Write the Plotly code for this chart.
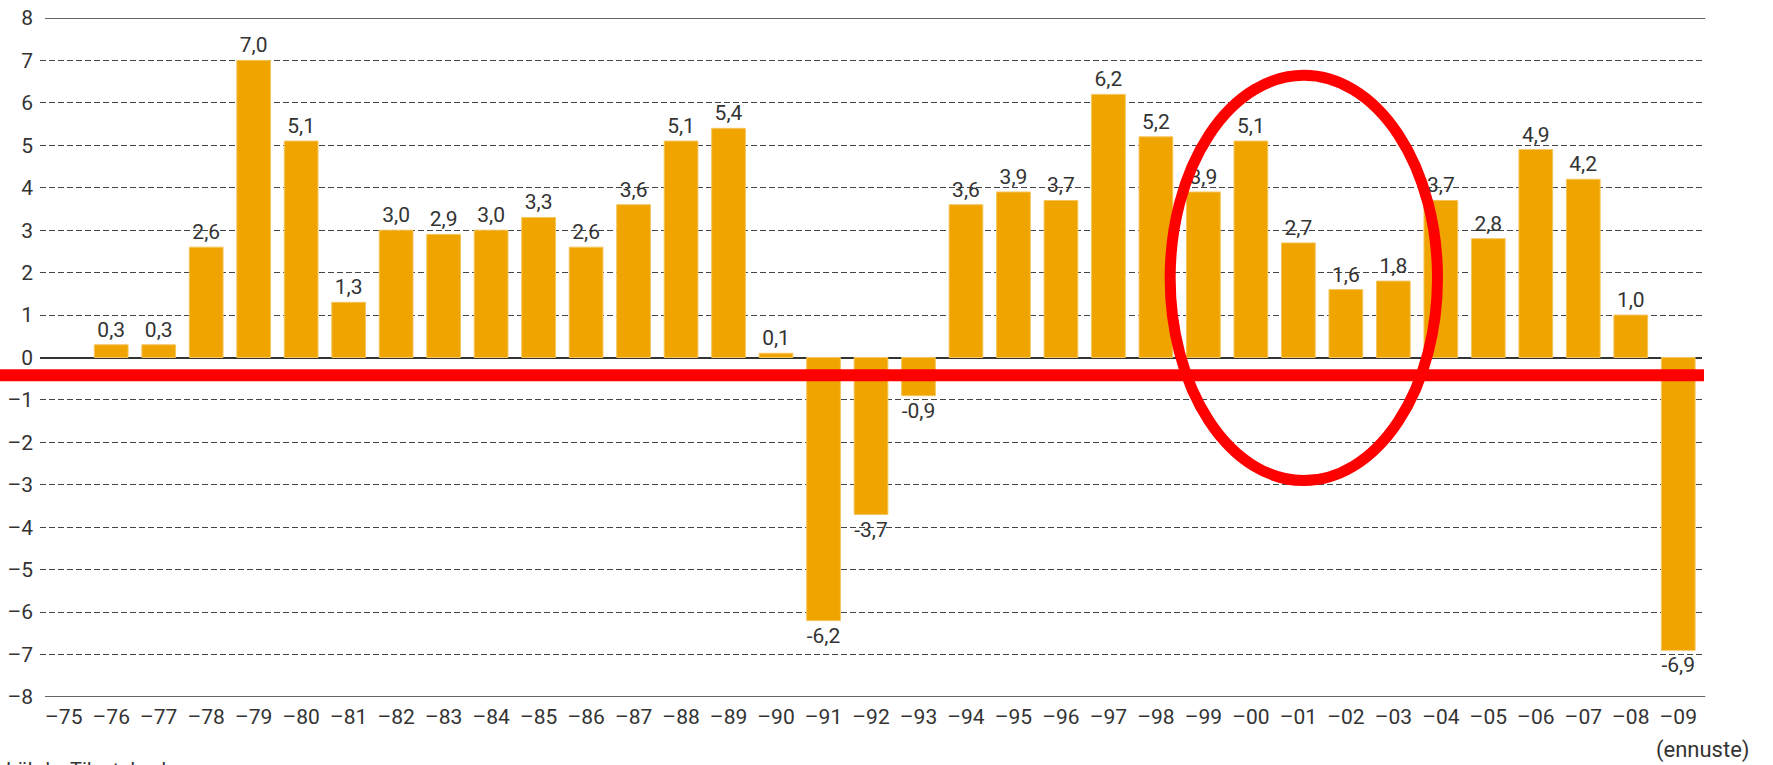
import plotly.graph_objects as go

years = ["–75", "–76", "–77", "–78", "–79", "–80", "–81", "–82", "–83", "–84",
         "–85", "–86", "–87", "–88", "–89", "–90", "–91", "–92", "–93", "–94",
         "–95", "–96", "–97", "–98", "–99", "–00", "–01", "–02", "–03", "–04",
         "–05", "–06", "–07", "–08", "–09"]
growth = [None, 0.3, 0.3, 2.6, 7.0, 5.1, 1.3, 3.0, 2.9, 3.0,
          3.3, 2.6, 3.6, 5.1, 5.4, 0.1, -6.2, -3.7, -0.9, 3.6,
          3.9, 3.7, 6.2, 5.2, 3.9, 5.1, 2.7, 1.6, 1.8, 3.7,
          2.8, 4.9, 4.2, 1.0, -6.9]
y_ticks = list(range(-8, 9))
y_ticktext = [("–" + str(-v)) if v < 0 else str(v) for v in y_ticks]

labels = ["" if v is None else f"{v:.1f}".replace(".", ",") for v in growth]

FONT = "Roboto, Open Sans, DejaVu Sans, sans-serif"
TXT = "#333333"

fig = go.Figure()
fig.add_trace(go.Bar(
    x=years, y=growth, text=labels, textposition="outside",
    textfont=dict(family=FONT, size=21, color=TXT),
    cliponaxis=False, constraintext="none",
    marker=dict(color="#EFA400", line=dict(color="#F6C55A", width=1)),
    hoverinfo="skip",
))

fig.update_layout(
    width=1773, height=765,
    margin=dict(l=40, r=71, t=18, b=68, autoexpand=False),
    plot_bgcolor="white", paper_bgcolor="white",
    bargap=0.29, showlegend=False,
    font=dict(family=FONT, size=21, color=TXT),
)
fig.update_xaxes(
    type="category", showgrid=False, zeroline=False, automargin=False,
    showline=False, ticks="", ticklabelstandoff=5,
    tickfont=dict(family=FONT, size=21, color=TXT),
    range=[-0.5, len(years) - 0.5],
)
fig.update_yaxes(
    range=[-8, 8], tickvals=y_ticks, ticktext=y_ticktext, automargin=False,
    showgrid=True, gridcolor="#444444", gridwidth=1, griddash="6px,3px",
    zeroline=True, zerolinecolor="#333333", zerolinewidth=1.5,
    showline=False, ticks="", ticklabelstandoff=6,
    tickfont=dict(family=FONT, size=21, color=TXT),
)

# solid top and bottom frame lines
for yv in (8, -8):
    fig.add_shape(type="line", xref="paper", yref="y", x0=0.003, x1=1.002,
                  y0=yv, y1=yv, line=dict(color="#333333", width=1.5))

# red highlight line
fig.add_shape(type="rect", xref="paper", yref="y", xsizemode="pixel",
              ysizemode="pixel", xanchor=0, yanchor=-0.42,
              x0=-40, x1=1664, y0=-6, y1=6,
              fillcolor="#FF0000", line=dict(width=0), layer="above")
# red ellipse
fig.add_shape(type="circle", xref="x", yref="y", x0=23.3, x1=28.93,
              y0=-2.90, y1=6.65, line=dict(color="#FF0000", width=11),
              layer="above")

fig.add_annotation(text="(ennuste)", xref="paper", yref="paper",
                   x=(1703 - 40) / 1662, y=-(750 - 697) / 679,
                   xanchor="center", yanchor="middle", showarrow=False,
                   font=dict(family=FONT, size=22, color=TXT))
fig.add_annotation(text="Lähde: Tilastokeskus", xref="paper", yref="paper",
                   x=-(40 - 4) / 1662, y=-(756 - 697) / 679,
                   xanchor="left", yanchor="top", showarrow=False,
                   font=dict(family=FONT, size=20, color=TXT))

fig.write_html("out.html", config={"displayModeBar": False},
               post_script="document.body.style.margin='0';"
                           "document.body.style.overflow='hidden';")
